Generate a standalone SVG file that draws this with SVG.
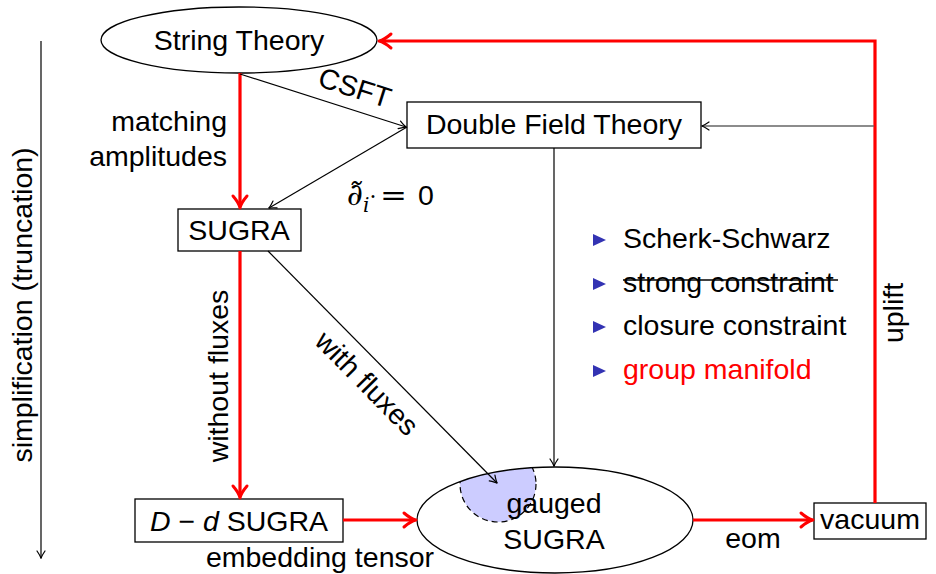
<svg xmlns="http://www.w3.org/2000/svg" width="936" height="574" viewBox="0 0 936 574">
<style>
text{font-family:"Liberation Sans",Arial,sans-serif;font-size:28.5px;fill:#000}
.nd{fill:#fff;stroke:#000;stroke-width:1.3}
.red{fill:none;stroke:#f00;stroke-width:3.2}
.blk{fill:none;stroke:#000;stroke-width:1.2}
.mid{text-anchor:middle}
.end{text-anchor:end}
.bul{fill:#3333b3}
</style>
<defs>
<marker id="ar" markerUnits="userSpaceOnUse" orient="auto" overflow="visible" markerWidth="1" markerHeight="1">
<path d="M-10,-7 Q-3,-1 2,0 Q-3,1 -10,7" fill="none" stroke="#f00" stroke-width="3" stroke-linecap="round" stroke-linejoin="round"/>
</marker>
<marker id="ab" markerUnits="userSpaceOnUse" orient="auto" overflow="visible" markerWidth="1" markerHeight="1">
<path d="M-7,-4 Q-2,-0.6 0.5,0 Q-2,0.6 -7,4" fill="none" stroke="#000" stroke-width="1.2" stroke-linecap="round"/>
</marker>
<clipPath id="gclip"><ellipse cx="555" cy="520" rx="138" ry="53"/></clipPath>
</defs>

<g id="node-string">
<ellipse class="nd" cx="239" cy="40" rx="138" ry="33"/>
<text class="mid" x="239" y="50">String Theory</text>
</g>
<g id="node-dft">
<rect class="nd" x="407" y="102" width="294" height="46"/>
<text class="mid" x="554" y="134">Double Field Theory</text>
</g>
<g id="node-sugra">
<rect class="nd" x="178" y="209" width="123" height="42"/>
<text class="mid" x="239" y="240">SUGRA</text>
</g>
<g id="node-dd">
<rect class="nd" x="135" y="499" width="208" height="43"/>
<text class="mid" x="239" y="531"><tspan font-style="italic">D</tspan> − <tspan font-style="italic">d</tspan> SUGRA</text>
</g>
<g id="node-gauged">
<ellipse cx="555" cy="520" rx="138" ry="53" fill="#fff"/>
<circle cx="498" cy="484" r="38" fill="#ccccff" stroke="#000" stroke-width="1.2" stroke-dasharray="6 4" clip-path="url(#gclip)"/>
<ellipse cx="555" cy="520" rx="138" ry="53" fill="none" stroke="#000" stroke-width="1.3"/>
<text class="mid" x="554" y="513">gauged</text>
<text class="mid" x="554" y="549">SUGRA</text>
</g>
<g id="node-vacuum">
<rect class="nd" x="814" y="503" width="112" height="36"/>
<text class="mid" x="870" y="529">vacuum</text>
</g>

<g id="connectors">
<line class="red" x1="240" y1="73" x2="240" y2="206" marker-end="url(#ar)"/>
<line class="red" x1="240" y1="251" x2="240" y2="496" marker-end="url(#ar)"/>
<line class="red" x1="343" y1="520" x2="414" y2="520" marker-end="url(#ar)"/>
<line class="red" x1="693" y1="520" x2="811" y2="520" marker-end="url(#ar)"/>
<polyline class="red" points="875,503 875,41 381,41" marker-end="url(#ar)"/>
<line class="blk" x1="240" y1="74" x2="406" y2="127" marker-end="url(#ab)"/>
<line class="blk" x1="407" y1="127" x2="269" y2="208" marker-end="url(#ab)"/>
<line class="blk" x1="554" y1="148" x2="554" y2="466" marker-end="url(#ab)"/>
<line class="blk" x1="268" y1="251" x2="497" y2="483" marker-end="url(#ab)"/>
<line x1="874" y1="126" x2="702" y2="126" stroke="#666" stroke-width="1.3" marker-end="url(#ab)"/>
<line class="blk" x1="41" y1="41" x2="41" y2="558" marker-end="url(#ab)"/>
</g>

<g id="labels">
<text transform="translate(352,97) rotate(17.6)" class="mid">CSFT</text>
<text class="end" x="227" y="131">matching</text>
<text class="end" x="227" y="166">amplitudes</text>
<text x="347" y="205" style="font-family:'DejaVu Serif',serif;font-style:italic;font-size:31px">∂̃<tspan dy="7" style="font-size:20px">i</tspan><tspan dy="-8" style="font-size:22px;font-style:normal">·</tspan></text>
<text x="380" y="205" textLength="27" lengthAdjust="spacingAndGlyphs" style="font-family:'DejaVu Sans',sans-serif;font-size:28px">=</text>
<text x="418" y="205">0</text>
<text transform="translate(228,376) rotate(-90)" class="mid">without fluxes</text>
<text transform="translate(360,390) rotate(45.4)" class="mid">with fluxes</text>
<text class="mid" x="320" y="567">embedding tensor</text>
<text class="mid" x="753" y="548">eom</text>
<text transform="translate(903,313) rotate(-90)" class="mid">uplift</text>
<text transform="translate(32,305) rotate(-90)" class="mid">simplification (truncation)</text>
</g>

<g id="bullets">
<polygon class="bul" points="593,234 606,240 593,246"/>
<polygon class="bul" points="593,278 606,284 593,290"/>
<polygon class="bul" points="593,321 606,327 593,333"/>
<polygon class="bul" points="593,365 606,371 593,377"/>
<text x="623" y="248">Scherk-Schwarz</text>
<text x="623" y="292">strong constraint</text>
<line x1="623" y1="280" x2="838" y2="280" stroke="#000" stroke-width="1.5"/>
<text x="623" y="335">closure constraint</text>
<text x="623" y="379" style="fill:#f00">group manifold</text>
</g>
</svg>
